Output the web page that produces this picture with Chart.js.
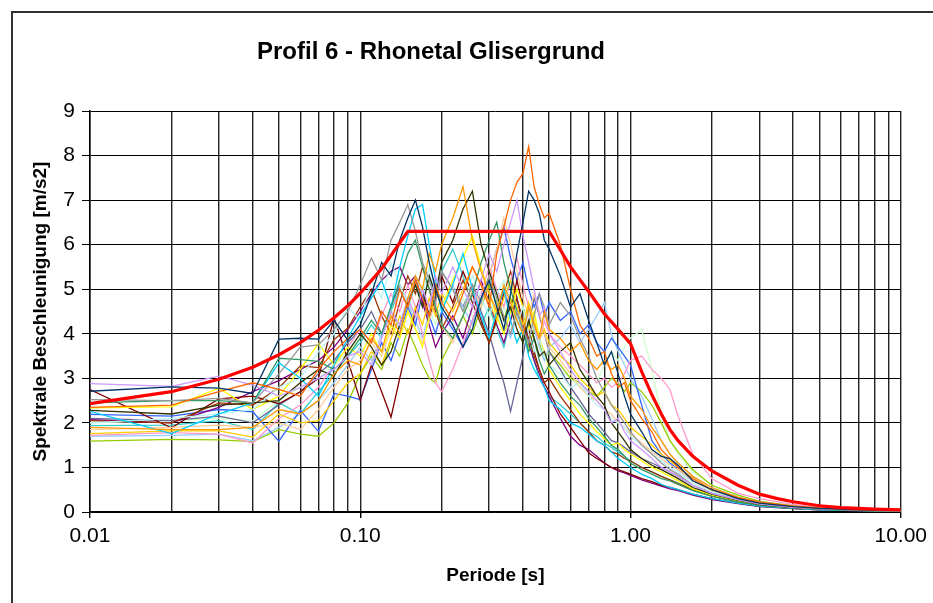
<!DOCTYPE html>
<html>
<head>
<meta charset="utf-8">
<title>Profil 6 - Rhonetal Glisergrund</title>
<script src="https://cdn.jsdelivr.net/npm/chart.js@4.4.1/dist/chart.umd.min.js"></script>
<style>
  html, body { margin: 0; padding: 0; background: #fff; }
  #wrap { width: 933px; height: 603px; }
</style>
</head>
<body>
<div id="wrap"><canvas id="chart" width="933" height="603"></canvas></div>
<script>
// Periods [s] at which every response spectrum is sampled
const periods = [0.01,0.02,0.03,0.04,0.05,0.06,0.07,0.08,0.09,
  0.10,0.11,0.12,0.13,0.14,0.15,0.16,0.17,0.18,0.19,0.20,
  0.22,0.24,0.26,0.28,0.30,0.32,0.34,0.36,0.38,0.40,0.42,0.44,0.46,0.48,0.50,
  0.55,0.60,0.65,0.70,0.75,0.80,0.85,0.90,0.95,1.00,
  1.1,1.2,1.3,1.4,1.5,1.7,2.0,2.5,3.0,4.0,5.0,7.0,10.0];

// Design spectrum (red)
const designPeriods = [0.01,0.02,0.03,0.04,0.05,0.06,0.07,0.08,0.09,0.10,0.12,0.15,
  0.50,0.60,0.70,0.80,0.90,1.00,1.10,1.20,1.30,1.40,1.50,1.70,2.00,2.50,3.00,3.50,4.00,5.00,6.00,7.00,8.00,10.00];
const designValues = [2.43,2.70,2.98,3.25,3.53,3.80,4.08,4.36,4.63,4.91,5.46,6.30,
  6.30,5.50,4.95,4.45,4.10,3.78,3.15,2.63,2.20,1.85,1.60,1.25,0.92,0.60,0.40,0.30,0.23,0.14,0.10,0.08,0.065,0.05];

// Spectral accelerations [m/s2] of the individual records
const acc01 = [2.71,2.81,2.78,2.66,3.88,3.90,3.88,4.30,3.85,
  4.2,4.9,5.6,5.3,6.1,6.6,7.0,6.4,5.6,5.0,4.6,
  4.2,3.7,4.1,4.8,5.2,4.6,4.1,4.9,5.8,6.5,7.2,7.0,6.7,6.1,5.9,
  5.3,4.6,4.9,4.3,3.8,3.3,3.6,3.1,2.6,2.2,
  1.8,1.4,1.25,1.2,1.05,0.7,0.5,0.3,0.2,0.12,0.08,0.05,0.03];
const acc02 = [2.35,2.40,2.70,2.90,2.75,2.60,3.20,3.60,3.90,
  4.1,3.8,4.5,4.2,5.0,4.6,5.2,4.8,4.4,5.1,4.7,
  4.3,4.9,5.5,5.1,4.6,5.8,6.4,7.0,7.4,7.6,8.2,7.3,6.9,6.6,6.7,
  6.0,5.0,4.2,3.9,3.5,3.6,3.1,2.8,2.9,2.5,
  2.1,1.8,1.4,1.2,1.0,0.75,0.5,0.32,0.22,0.13,0.09,0.05,0.03];
const acc03 = [1.90,1.85,1.85,1.90,2.30,2.20,2.50,3.10,3.40,
  3.3,3.9,3.6,4.4,4.0,4.8,5.3,5.0,5.8,5.4,6.0,
  6.6,7.3,6.1,5.4,4.9,4.5,5.1,4.7,4.3,4.0,4.6,4.2,3.9,4.5,4.1,
  3.9,3.6,3.8,3.4,3.2,3.4,3.2,3.3,3.0,2.6,
  2.3,1.9,1.6,1.3,1.1,0.8,0.55,0.33,0.22,0.13,0.09,0.05,0.03];
const acc04 = [2.88,2.82,3.05,2.85,2.60,2.80,3.00,3.20,3.50,
  3.6,3.3,3.9,4.5,4.2,4.8,4.4,5.0,4.6,5.3,4.9,
  5.5,5.0,4.6,5.2,5.8,5.4,6.0,6.5,7.0,6.2,5.6,5.0,4.4,4.6,4.0,
  3.6,3.2,2.9,2.7,2.5,2.3,2.0,2.1,1.8,1.6,
  1.4,1.2,1.0,0.9,0.8,0.6,0.42,0.28,0.18,0.11,0.07,0.04,0.025];
const acc05 = [2.52,2.50,2.55,2.45,3.10,3.70,3.75,4.10,4.50,
  5.1,5.7,5.2,6.1,6.5,6.9,6.3,5.6,5.2,4.7,5.4,
  5.0,4.5,5.1,4.7,5.3,4.8,4.4,4.0,4.5,4.1,3.8,4.4,4.9,4.6,4.2,
  4.7,4.4,3.9,3.5,3.0,2.7,2.4,2.2,2.0,1.8,
  1.5,1.3,1.1,0.95,0.85,0.6,0.42,0.27,0.18,0.1,0.07,0.04,0.025];
const acc06 = [2.28,2.20,2.40,2.45,2.50,2.90,3.20,3.05,3.60,
  4.0,3.7,3.3,3.6,4.2,4.7,5.1,4.6,5.3,4.9,5.6,
  6.1,6.8,7.2,6.0,5.4,4.9,4.3,4.6,4.1,3.8,4.3,3.9,3.5,3.6,3.3,
  3.6,3.8,3.2,2.9,2.6,2.4,2.0,1.8,1.6,1.4,
  1.2,1.05,0.95,0.85,0.75,0.55,0.4,0.26,0.17,0.1,0.07,0.04,0.02];
const acc07 = [2.45,2.50,2.50,2.45,3.45,3.42,3.38,3.20,3.50,
  3.9,4.3,4.0,4.6,5.2,5.8,6.1,5.5,5.0,4.6,4.2,
  3.9,4.4,4.9,5.6,6.1,6.5,5.6,5.0,4.5,4.1,3.6,3.9,3.4,3.1,3.3,
  2.9,2.6,2.4,2.1,1.9,1.7,1.5,1.4,1.25,1.1,
  0.95,0.85,0.75,0.7,0.62,0.48,0.35,0.22,0.15,0.09,0.06,0.035,0.02];
const acc08 = [2.26,1.76,2.20,2.45,3.35,3.00,2.60,3.30,3.90,
  4.4,4.8,5.2,4.6,5.5,6.2,6.8,6.9,6.0,5.2,4.5,
  5.1,5.8,5.0,4.4,3.9,4.5,5.0,4.3,3.8,4.1,3.5,3.2,3.0,2.8,2.5,
  2.3,2.0,1.9,1.75,1.6,1.5,1.35,1.2,1.1,1.0,
  0.85,0.75,0.62,0.55,0.5,0.4,0.3,0.2,0.13,0.08,0.05,0.03,0.02];
const acc09 = [2.00,2.10,2.20,2.30,2.80,3.00,3.60,4.00,4.60,
  4.3,5.2,4.8,5.6,5.1,4.7,5.3,4.9,5.5,5.0,4.6,
  5.0,4.5,5.3,4.8,4.4,4.9,5.2,4.7,4.2,4.6,4.0,3.6,3.9,3.5,3.3,
  3.1,2.8,2.9,2.6,2.4,2.3,2.1,2.0,1.9,1.7,
  1.5,1.3,1.15,1.0,0.9,0.65,0.45,0.3,0.2,0.12,0.08,0.045,0.025];
const acc10 = [2.34,2.36,2.78,2.30,2.60,3.20,3.78,3.30,3.70,
  3.5,4.0,3.6,4.2,3.9,4.5,4.1,3.7,4.4,5.0,4.6,
  5.2,5.7,6.2,5.5,4.9,4.4,4.0,4.5,5.0,4.6,4.1,4.5,3.9,3.6,3.2,
  2.8,2.5,2.2,2.0,1.8,1.65,1.5,1.55,1.4,1.3,
  1.15,1.0,0.9,0.8,0.7,0.52,0.38,0.25,0.16,0.1,0.06,0.035,0.02];
const acc11 = [1.76,1.82,1.82,1.68,2.20,2.00,2.05,2.50,2.90,
  3.1,3.6,3.3,3.9,4.4,4.0,4.6,4.2,4.8,4.4,4.9,
  4.5,5.0,5.5,5.1,4.7,4.3,4.8,5.2,4.6,4.2,4.7,4.3,3.9,4.1,3.8,
  3.5,3.3,3.0,2.8,2.6,2.7,2.4,2.3,2.1,1.9,
  1.7,1.5,1.3,1.15,1.0,0.75,0.5,0.32,0.2,0.12,0.08,0.045,0.025];
const acc12 = [1.85,1.90,1.95,1.90,2.00,1.85,2.30,2.80,3.20,
  3.4,3.8,3.5,4.1,3.9,4.5,4.1,3.8,4.3,4.7,4.2,
  3.8,4.4,5.0,4.6,5.3,5.9,6.6,6.0,5.4,4.8,4.4,4.9,4.5,4.0,3.7,
  3.4,3.1,2.8,2.6,2.5,2.3,2.2,2.0,1.9,1.75,
  1.55,1.35,1.2,1.05,0.95,0.7,0.48,0.3,0.2,0.12,0.08,0.045,0.025];
const acc13 = [1.72,1.78,1.75,1.55,2.10,2.40,2.80,3.30,3.70,
  4.1,3.8,4.4,4.9,4.5,5.1,4.6,4.0,3.4,2.9,2.7,
  3.2,3.8,4.3,4.9,5.5,5.0,4.6,5.2,5.7,5.1,4.6,4.2,3.8,4.3,4.0,
  3.7,3.5,3.3,3.1,2.9,3.0,2.8,2.9,3.1,3.4,
  3.5,3.2,3.0,2.75,2.15,1.3,0.75,0.42,0.3,0.17,0.1,0.055,0.03];
const acc14 = [2.05,2.00,2.45,2.40,2.79,3.28,3.24,3.87,4.13,
  4.6,5.0,4.4,4.0,4.7,5.3,4.9,5.5,5.0,4.5,4.1,
  4.6,5.2,4.7,4.2,3.8,4.3,4.9,5.4,4.8,4.3,3.9,3.5,3.2,2.9,3.0,
  2.6,2.3,2.0,1.8,1.6,1.5,1.35,1.3,1.2,1.15,
  1.0,0.9,0.8,0.72,0.64,0.5,0.36,0.23,0.15,0.09,0.06,0.035,0.02];
const acc15 = [2.75,1.89,2.54,2.60,2.43,2.70,3.00,4.36,3.40,
  2.5,3.3,2.7,2.13,3.0,3.8,4.5,5.0,4.4,4.8,5.3,
  4.7,5.4,4.9,4.3,3.8,4.4,5.0,4.5,5.2,4.6,4.1,3.6,3.2,2.9,2.7,
  2.2,1.9,1.6,1.33,1.2,1.1,1.0,0.95,0.9,0.85,
  0.75,0.68,0.6,0.55,0.5,0.4,0.3,0.2,0.13,0.08,0.05,0.03,0.015];
const acc16 = [2.07,2.00,2.35,2.70,2.95,3.20,3.40,3.70,4.10,
  4.5,4.9,5.2,5.4,5.5,5.1,5.3,4.7,4.2,3.7,4.0,
  4.4,3.9,4.6,5.2,4.7,4.2,3.8,4.3,4.8,4.2,3.8,3.4,3.1,2.8,2.6,
  2.1,1.7,1.5,1.4,1.25,1.1,1.0,0.92,0.88,0.82,
  0.72,0.65,0.58,0.52,0.48,0.38,0.28,0.19,0.12,0.075,0.05,0.03,0.015];
const acc17 = [2.19,2.15,2.30,2.25,1.59,2.28,1.81,2.66,2.60,
  2.52,3.2,3.8,3.4,4.0,4.6,4.2,4.9,4.4,4.0,4.5,
  4.1,3.7,4.3,4.8,5.3,5.9,6.4,5.7,5.2,5.6,5.0,4.6,4.9,4.4,4.7,
  4.3,4.5,4.0,4.2,3.8,3.6,3.9,3.7,3.5,3.3,
  2.4,1.6,1.3,1.1,0.95,0.7,0.5,0.3,0.2,0.12,0.08,0.045,0.025];
const acc18 = [1.70,1.72,1.75,1.60,1.90,2.20,2.50,2.90,3.30,
  3.7,3.4,4.0,4.5,4.1,4.7,4.3,3.9,4.5,5.0,4.6,
  5.1,4.6,4.2,4.7,5.2,4.8,4.3,3.9,4.4,4.0,4.5,4.1,3.7,3.4,3.7,
  3.9,4.2,3.8,4.1,4.4,4.7,4.0,3.6,3.3,3.0,
  2.6,2.1,1.6,1.3,1.1,0.8,0.55,0.33,0.22,0.13,0.08,0.045,0.025];
const acc19 = [2.10,2.05,2.15,2.00,2.40,2.70,3.10,3.40,3.80,
  4.1,4.5,4.0,4.6,5.1,4.7,5.2,4.8,4.3,4.9,5.4,
  5.0,4.6,5.1,4.5,4.0,3.4,2.9,2.26,2.9,3.5,4.2,4.8,4.4,4.0,3.6,
  3.2,2.8,2.5,2.2,2.0,1.8,1.6,1.55,1.45,1.35,
  1.2,1.1,1.0,0.9,0.8,0.6,0.42,0.27,0.17,0.1,0.065,0.035,0.02];
const acc20 = [1.59,1.63,1.62,1.58,1.85,1.75,1.70,2.00,2.45,
  3.1,3.5,3.2,3.8,3.5,4.1,3.7,3.3,3.0,2.9,3.4,
  3.9,4.4,4.0,4.6,5.1,4.7,4.3,4.8,4.4,4.0,3.7,4.1,3.8,3.5,3.6,
  3.3,3.0,2.9,2.7,2.6,2.8,3.0,2.9,2.7,2.9,
  2.7,2.4,2.0,1.6,1.35,0.95,0.6,0.38,0.24,0.14,0.09,0.05,0.03];
const acc21 = [2.00,2.05,2.10,2.05,2.50,2.80,3.00,3.30,3.60,
  3.9,4.3,4.0,4.6,4.2,4.8,4.4,5.0,4.6,4.2,4.7,
  4.3,4.8,4.4,4.0,4.5,4.1,4.6,4.2,3.8,4.3,3.9,3.5,3.8,3.4,3.6,
  3.2,3.0,2.8,3.1,2.9,3.3,3.6,3.4,3.7,3.9,
  4.09,3.2,2.2,1.6,1.3,0.9,0.6,0.36,0.24,0.14,0.09,0.05,0.03];
const acc22 = [1.94,1.95,2.05,1.85,2.45,2.20,2.70,3.10,3.50,
  3.8,4.2,3.9,4.5,5.0,4.6,5.1,4.7,5.3,4.8,5.4,
  5.9,5.3,4.7,4.2,4.6,4.1,3.7,4.3,4.8,4.2,3.8,3.4,3.0,2.8,2.6,
  2.4,2.2,2.0,1.8,1.7,1.55,1.45,1.35,1.25,1.15,
  1.0,0.9,0.8,0.72,0.65,0.5,0.37,0.24,0.15,0.09,0.06,0.035,0.02];

const records = [acc01,acc02,acc03,acc04,acc05,acc06,acc07,acc08,acc09,acc10,acc11,
  acc12,acc13,acc14,acc15,acc16,acc17,acc18,acc19,acc20,acc21,acc22];

// Axis labels
const xTickLabels = ['0.01','0.10','1.00','10.00'];
const yTicks = [0,1,2,3,4,5,6,7,8,9];

// Line colours of the records
const recordColors = ['#003366','#FF6600','#FF9900','#CC99FF','#969696','#333300','#339966','#00CCFF',
  '#B8F4F4','#FFFF00','#FFCC00','#FFCC99','#FF99CC','#993300','#800000','#800080','#3366FF',
  '#99CCFF','#666699','#99CC00','#CCFFCC','#33CCCC'];

const toPoints = (xs, ys) => xs.map((x, i) => ({x: x, y: ys[i]}));

const datasets = [{
  label: 'Bemessungsspektrum',
  data: toPoints(designPeriods, designValues),
  borderColor: '#FF0000',
  borderWidth: 3.2,
  pointRadius: 0,
  tension: 0
}].concat(records.map((vals, i) => ({
  label: 'Record ' + (i + 1),
  data: toPoints(periods, vals),
  borderColor: recordColors[i],
  borderWidth: 1.3,
  pointRadius: 0,
  tension: 0
})));

// Gridlines of the log axis: 1..9 x every decade
const decades = [0.01, 0.1, 1, 10];
const isDecade = v => decades.some(d => Math.abs(v - d) < d * 1e-6);
const FONT = '"Liberation Sans", Arial, sans-serif';

const frame = {
  id: 'frame',
  beforeDraw(chart) {
    const ctx = chart.ctx;
    ctx.save();
    ctx.fillStyle = '#ffffff';
    ctx.fillRect(0, 0, chart.width, chart.height);
    ctx.strokeStyle = '#333333';
    ctx.lineWidth = 2;
    ctx.strokeRect(12, 12, chart.width + 20, chart.height + 20);
    ctx.restore();
  },
  afterDraw(chart) {
    const ctx = chart.ctx;
    ctx.save();
    ctx.fillStyle = '#000000';
    ctx.font = 'bold 24px ' + FONT;
    ctx.textAlign = 'center';
    ctx.textBaseline = 'alphabetic';
    ctx.fillText('Profil 6 - Rhonetal Glisergrund', 431, 59);
    ctx.restore();
  }
};

new Chart(document.getElementById('chart'), {
  type: 'line',
  data: { datasets: datasets },
  plugins: [frame],
  options: {
    responsive: false,
    animation: false,
    events: [],
    layout: { padding: { left: 20, right: 32, top: 111, bottom: 13 } },
    plugins: { legend: { display: false }, tooltip: { enabled: false }, title: { display: false } },
    scales: {
      x: {
        type: 'logarithmic',
        min: 0.01,
        max: 10,
        afterBuildTicks(scale) {
          const t = [];
          decades.forEach(d => {
            for (let k = 1; k <= 9; k++) {
              const v = +(k * d).toPrecision(6);
              if (v <= 10) t.push({ value: v });
            }
          });
          scale.ticks = t;
        },
        afterFit(scale) { scale.height = 78; },
        border: { display: true, color: '#000', width: 1.5 },
        grid: {
          color: '#222',
          lineWidth: 1.4,
          drawTicks: true,
          tickLength: 6,
          tickColor: ctx => (ctx.tick && isDecade(ctx.tick.value)) ? '#000' : 'rgba(0,0,0,0)'
        },
        ticks: {
          autoSkip: false,
          maxRotation: 0,
          padding: 6,
          color: '#000',
          font: { family: FONT, size: 21 },
          callback: function (v) {
            const i = decades.findIndex(d => Math.abs(v - d) < d * 1e-6);
            return i >= 0 ? xTickLabels[i] : '';
          }
        },
        title: {
          display: true,
          text: 'Periode [s]',
          color: '#000',
          font: { family: FONT, size: 19, weight: 'bold' },
          padding: { top: 0, bottom: 3 }
        }
      },
      y: {
        type: 'linear',
        min: 0,
        max: 9,
        afterBuildTicks(scale) { scale.ticks = yTicks.map(v => ({ value: v })); },
        afterFit(scale) { scale.width = 70; },
        border: { display: true, color: '#000', width: 1.5 },
        grid: { color: '#000', lineWidth: 1, drawTicks: true, tickLength: 8, tickColor: '#000' },
        ticks: {
          padding: 7,
          color: '#000',
          font: { family: FONT, size: 21 }
        },
        title: {
          display: true,
          text: 'Spektrale Beschleunigung [m/s2]',
          color: '#000',
          font: { family: FONT, size: 19, weight: 'bold' },
          padding: { top: 9, bottom: 0 }
        }
      }
    }
  }
});
</script>
</body>
</html>
